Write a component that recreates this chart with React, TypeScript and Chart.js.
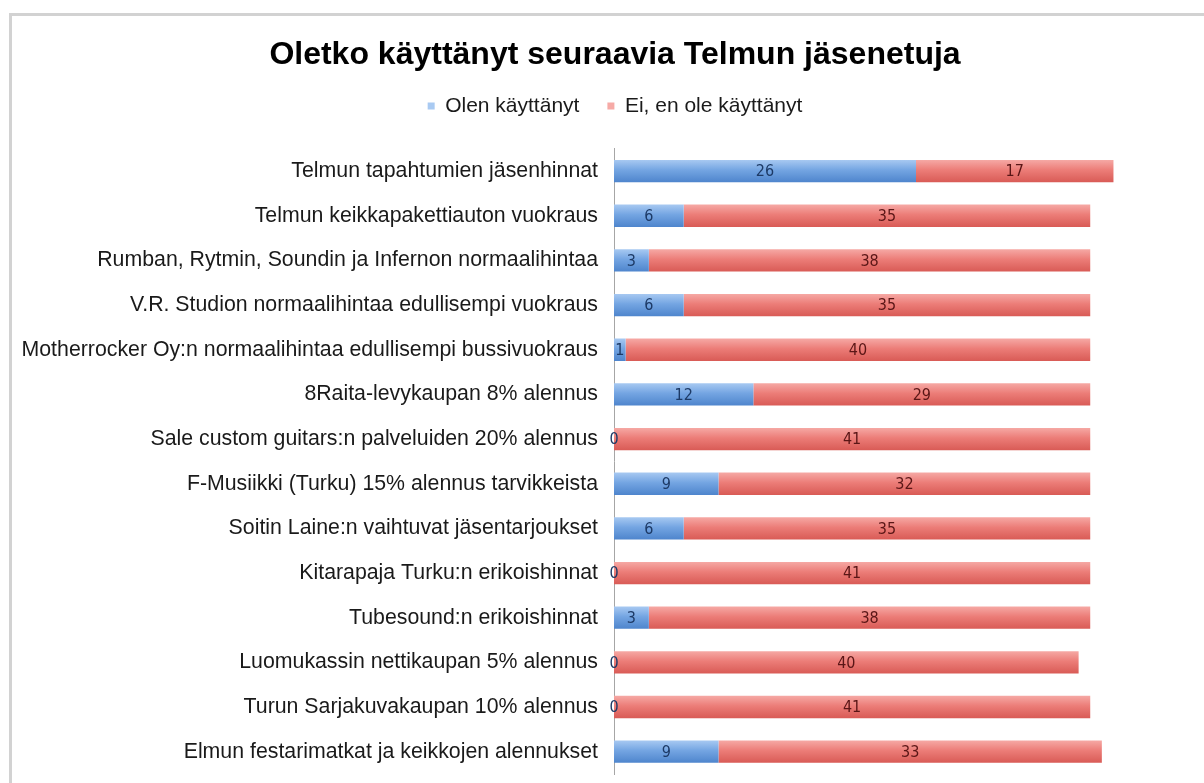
import React, { useEffect, useRef } from "react";
import { Chart, registerables } from "chart.js";

Chart.register(...registerables);

const categories = [
  "Telmun tapahtumien jäsenhinnat",
  "Telmun keikkapakettiauton vuokraus",
  "Rumban, Rytmin, Soundin ja Infernon normaalihintaa",
  "V.R. Studion normaalihintaa edullisempi vuokraus",
  "Motherrocker Oy:n normaalihintaa edullisempi bussivuokraus",
  "8Raita-levykaupan 8% alennus",
  "Sale custom guitars:n palveluiden 20% alennus",
  "F-Musiikki (Turku) 15% alennus tarvikkeista",
  "Soitin Laine:n vaihtuvat jäsentarjoukset",
  "Kitarapaja Turku:n erikoishinnat",
  "Tubesound:n erikoishinnat",
  "Luomukassin nettikaupan 5% alennus",
  "Turun Sarjakuvakaupan 10% alennus",
  "Elmun festarimatkat ja keikkojen alennukset",
];

const usedValues = [26, 6, 3, 6, 1, 12, 0, 9, 6, 0, 3, 0, 0, 9];
const notUsedValues = [17, 35, 38, 35, 40, 29, 41, 32, 35, 41, 38, 40, 41, 33];
const seriesNames = ["Olen käyttänyt", "Ei, en ole käyttänyt"];
const chartTitle = "Oletko käyttänyt seuraavia Telmun jäsenetuja";
const xMax = 52;

const FONT = '"Liberation Sans", Arial, sans-serif';
const LABEL_FONT = '"DejaVu Sans Condensed", "Liberation Sans", sans-serif';

function barGradient(top: string, mid: string, bottom: string, flat: string) {
  return (ctx: any) => {
    const chart = ctx.chart;
    if (ctx.type !== "data" || !chart.chartArea || !chart.scales.y) return flat;
    const y = chart.scales.y.getPixelForValue(ctx.dataIndex);
    const h = 11.5;
    const g = chart.ctx.createLinearGradient(0, y - h, 0, y + h);
    g.addColorStop(0, top);
    g.addColorStop(0.45, mid);
    g.addColorStop(1, bottom);
    return g;
  };
}

const labelColors = ["#1d3a66", "#5a1616"];

const valueLabels = {
  id: "valueLabels",
  afterDatasetsDraw(chart: any) {
    const ctx = chart.ctx;
    ctx.save();
    ctx.font = `16px ${LABEL_FONT}`;
    ctx.textAlign = "center";
    ctx.textBaseline = "middle";
    chart.data.datasets.forEach((ds: any, di: number) => {
      const meta = chart.getDatasetMeta(di);
      ctx.fillStyle = labelColors[di];
      meta.data.forEach((el: any, i: number) => {
        const v = ds.data[i];
        const cx = (el.x + el.base) / 2;
        ctx.fillText(String(v), cx, el.y + 1);
      });
    });
    ctx.restore();
  },
};

export default function App() {
  const ref = useRef<HTMLCanvasElement | null>(null);

  useEffect(() => {
    if (!ref.current) return;
    const chart = new Chart(ref.current, {
      type: "bar",
      data: {
        labels: categories,
        datasets: [
          {
            label: seriesNames[0],
            data: usedValues,
            backgroundColor: barGradient("#a9caf2", "#74a5e2", "#4d84cc", "#6b9fdf"),
            borderWidth: 0,
            categoryPercentage: 1,
            barPercentage: 0.5,
          },
          {
            label: seriesNames[1],
            data: notUsedValues,
            backgroundColor: barGradient("#f6aaa6", "#ec7d78", "#d85a55", "#e8716c"),
            borderWidth: 0,
            categoryPercentage: 1,
            barPercentage: 0.5,
          },
        ],
      },
      options: {
        indexAxis: "y",
        responsive: false,
        animation: false,
        layout: { padding: { left: 0, right: 0, top: 0, bottom: 9 } },
        scales: {
          x: {
            stacked: true,
            min: 0,
            max: xMax,
            position: "top",
            grid: { display: false, drawTicks: false },
            border: { display: false },
            ticks: { display: false },
            afterFit: (s: any) => {
              s.height = 22.3;
            },
          },
          y: {
            stacked: true,
            grid: { display: false, drawTicks: false },
            border: { display: true, color: "#a6a6a6", width: 1 },
            ticks: {
              color: "#1a1a1a",
              font: { family: FONT, size: 21.3 },
              padding: 16,
              autoSkip: false,
            },
            afterFit: (s: any) => {
              s.width = 602;
              s.paddingTop = 0;
              s.paddingBottom = 0;
            },
          },
        },
        plugins: {
          title: {
            display: true,
            text: chartTitle,
            color: "#000",
            font: { family: FONT, size: 32, weight: "bold" },
            padding: { top: 20, bottom: -6.9 },
          },
          legend: {
            display: true,
            position: "top",
            labels: {
              boxWidth: 7,
              boxHeight: 7,
              color: "#1a1a1a",
              font: { family: FONT, size: 21 },
              padding: 28,
            },
          },
          tooltip: { enabled: false },
        },
      },
      plugins: [valueLabels],
    } as any);
    return () => chart.destroy();
  }, []);

  return (
    <div style={{ position: "fixed", inset: 0, overflow: "hidden", background: "#fff" }}>
      <div
        style={{
          position: "absolute",
          left: 9,
          top: 13,
          width: 1400,
          height: 1000,
          borderLeft: "3px solid #d2d2d2",
          borderTop: "3px solid #d2d2d2",
        }}
      />
      <canvas
        ref={ref}
        width={1206}
        height={767}
        style={{ position: "absolute", left: 12, top: 16, width: 1206, height: 767 }}
      />
    </div>
  );
}
